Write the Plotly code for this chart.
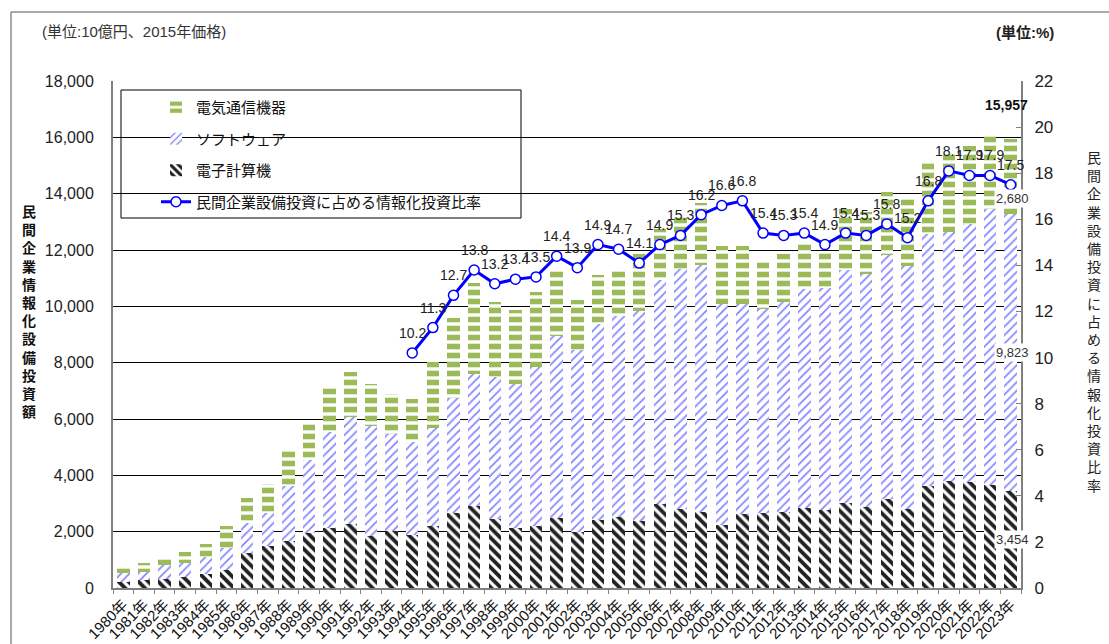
import plotly.graph_objects as go

years = ["1980年", "1981年", "1982年", "1983年", "1984年", "1985年", "1986年", "1987年",
         "1988年", "1989年", "1990年", "1991年", "1992年", "1993年", "1994年", "1995年",
         "1996年", "1997年", "1998年", "1999年", "2000年", "2001年", "2002年", "2003年",
         "2004年", "2005年", "2006年", "2007年", "2008年", "2009年", "2010年", "2011年",
         "2012年", "2013年", "2014年", "2015年", "2016年", "2017年", "2018年", "2019年",
         "2020年", "2021年", "2022年", "2023年"]

computer = [220, 290, 310, 400, 500, 640, 1235, 1500, 1680, 1970, 2145, 2265, 1845, 2034,
            1875, 2205, 2650, 2900, 2450, 2120, 2210, 2500, 2000, 2410, 2507, 2388, 2980,
            2790, 2707, 2235, 2613, 2672, 2707, 2826, 2767, 3027, 2885, 3160, 2790, 3618,
            3807, 3772, 3654, 3454]

software = [300, 270, 505, 475, 610, 790, 1059, 1150, 1940, 2590, 3400, 3789, 3901, 3428,
            3292, 3458, 4090, 4715, 5050, 5140, 5640, 6440, 6460, 6970, 7143, 7432, 7945,
            8550, 8753, 7865, 7487, 7248, 7453, 7774, 7893, 8253, 8275, 8650, 8640, 8962,
            8833, 9168, 9816, 9823]

telecom = [180, 315, 205, 390, 450, 780, 890, 1060, 1310, 1340, 1595, 1606, 1504, 1418,
           1537, 2377, 2850, 3215, 2660, 2600, 2660, 2305, 1755, 1740, 1690, 2050, 1835,
           1890, 2210, 2040, 2040, 1690, 1710, 1680, 1270, 2190, 2190, 2250, 2370, 2580,
           2840, 2740, 2630, 2680]

ratio_years = years[14:]
ratio = [10.2, 11.3, 12.7, 13.8, 13.2, 13.4, 13.5, 14.4, 13.9, 14.9, 14.7, 14.1, 14.9, 15.3,
         16.2, 16.6, 16.8, 15.4, 15.3, 15.4, 14.9, 15.4, 15.3, 15.8, 15.2, 16.8, 18.1, 17.9,
         17.9, 17.5]

total_2023 = 15957

W, H = 1109, 644
L, R, T, B = 113, 88, 81, 56
PW, PH = W - L - R, H - T - B


def px(X):
    return (X - L) / PW


def py(Y):
    return (H - B - Y) / PH


FONT = "Liberation Sans, Noto Sans CJK JP, sans-serif"

fig = go.Figure()
fig.add_trace(go.Bar(
    name="電子計算機", x=years, y=computer, legendgroup="c", legendrank=3,
    marker=dict(color="white", line=dict(width=0),
                pattern=dict(shape="\\", fgcolor="#222222", bgcolor="white", size=7, solidity=0.55)),
))
fig.add_trace(go.Bar(
    name="ソフトウェア", x=years, y=software, legendgroup="s", legendrank=2,
    marker=dict(color="white", line=dict(width=0),
                pattern=dict(shape="/", fgcolor="#8585ff", bgcolor="white", size=6, solidity=0.28)),
))
fig.add_trace(go.Bar(
    name="電気通信機器", x=years, y=telecom, legendgroup="t", legendrank=1,
    marker=dict(color="white", line=dict(width=0),
                pattern=dict(shape="-", fgcolor="#9bbb59", bgcolor="white", size=9, solidity=0.62)),
))
fig.add_trace(go.Scatter(
    name="民間企業設備投資に占める情報化投資比率", x=ratio_years, y=ratio, yaxis="y2",
    legendgroup="r", legendrank=4,
    mode="lines+markers",
    line=dict(color="#0000ff", width=3),
    marker=dict(size=10, color="white", line=dict(color="#0000ff", width=1.5)),
    cliponaxis=False,
))

annotations = []
for yr, v in zip(ratio_years, ratio):
    annotations.append(dict(x=yr, y=v, xref="x", yref="y2", text=f"{v:.1f}", showarrow=False,
                            yshift=20, font=dict(size=14, color="#222222")))

comp23 = computer[-1]
soft23 = software[-1]
tel23 = telecom[-1]
annotations += [
    dict(x=years[-1], y=comp23 / 2, xref="x", yref="y", text=f"{comp23:,}", showarrow=False,
         bgcolor="white", font=dict(size=13, color="#333333"), xshift=2),
    dict(x=years[-1], y=comp23 + soft23 / 2, xref="x", yref="y", text=f"{soft23:,}", showarrow=False,
         bgcolor="white", font=dict(size=13, color="#333333"), xshift=2),
    dict(x=years[-1], y=comp23 + soft23 + tel23 / 2, xref="x", yref="y", text=f"{tel23:,}",
         showarrow=False, bgcolor="white", font=dict(size=13, color="#333333"), xshift=2, yshift=-22),
    dict(x=years[-1], y=total_2023, xref="x", yref="y", text=f"<b>{total_2023:,}</b>", showarrow=False,
         font=dict(size=14, color="#111111"), yshift=34, xshift=-4),
    dict(x=px(40), y=py(32), xref="paper", yref="paper", xanchor="left", yanchor="middle",
         text="(単位:10億円、2015年価格)", showarrow=False, font=dict(size=15, color="#333333")),
    dict(x=px(1025), y=py(33), xref="paper", yref="paper", xanchor="center", yanchor="middle",
         text="<b>(単位:%)</b>", showarrow=False, font=dict(size=15, color="#222222")),
    dict(x=px(29), y=py(312), xref="paper", yref="paper", xanchor="center", yanchor="middle",
         text="<b>" + "<br>".join("民間企業情報化設備投資額") + "</b>", showarrow=False,
         font=dict(size=14, color="#111111")),
    dict(x=px(1094), y=py(322), xref="paper", yref="paper", xanchor="center", yanchor="middle",
         text="<br>".join("民間企業設備投資に占める情報化投資比率"), showarrow=False,
         font=dict(size=14, color="#222222")),
]

shapes = [
    dict(type="rect", xref="paper", yref="paper", x0=px(121), x1=px(521), y0=py(218), y1=py(90),
         fillcolor="white", line=dict(color="#000000", width=1), layer="between"),
    dict(type="line", xref="paper", yref="paper", x0=px(11), x1=px(1109), y0=py(12), y1=py(12),
         line=dict(color="#555555", width=1)),
    dict(type="line", xref="paper", yref="paper", x0=px(11), x1=px(11), y0=py(12), y1=py(644),
         line=dict(color="#555555", width=1)),
]

fig.update_layout(
    template="none",
    width=W, height=H,
    margin=dict(l=L, r=R, t=T, b=B, autoexpand=False),
    paper_bgcolor="white", plot_bgcolor="white",
    font=dict(family=FONT, color="#222222"),
    barmode="stack", bargap=0.4,
    showlegend=True,
    legend=dict(x=px(156), y=py(91), xanchor="left", yanchor="top", bgcolor="rgba(0,0,0,0)",
                borderwidth=0, traceorder="grouped", tracegroupgap=9,
                font=dict(size=15, color="#111111"), itemwidth=30),
    xaxis=dict(type="category", range=[-0.5, len(years) - 0.5], tickangle=-45,
               tickfont=dict(size=15, color="#111111"),
               showline=True, linecolor="#808080", linewidth=2, ticks="outside",
               tickson="boundaries", ticklen=4, tickcolor="#808080", showgrid=False,
               automargin=False, zeroline=False),
    yaxis=dict(range=[0, 18000], dtick=2000, tickformat=",d", showgrid=True, gridcolor="#000000",
               gridwidth=1, showline=True, linecolor="#808080", linewidth=2, ticks="",
               tickfont=dict(size=16, color="#222222"), ticklabelstandoff=14, zeroline=False,
               automargin=False),
    yaxis2=dict(overlaying="y", side="right", range=[0, 22], dtick=2, showgrid=False,
                showline=True, linecolor="#808080", linewidth=2, ticks="inside", ticklen=5,
                tickcolor="#808080", tickfont=dict(size=17, color="#222222"),
                ticklabelstandoff=8, zeroline=False, automargin=False),
    annotations=annotations,
    shapes=shapes,
)

fig.write_html("out.html")
